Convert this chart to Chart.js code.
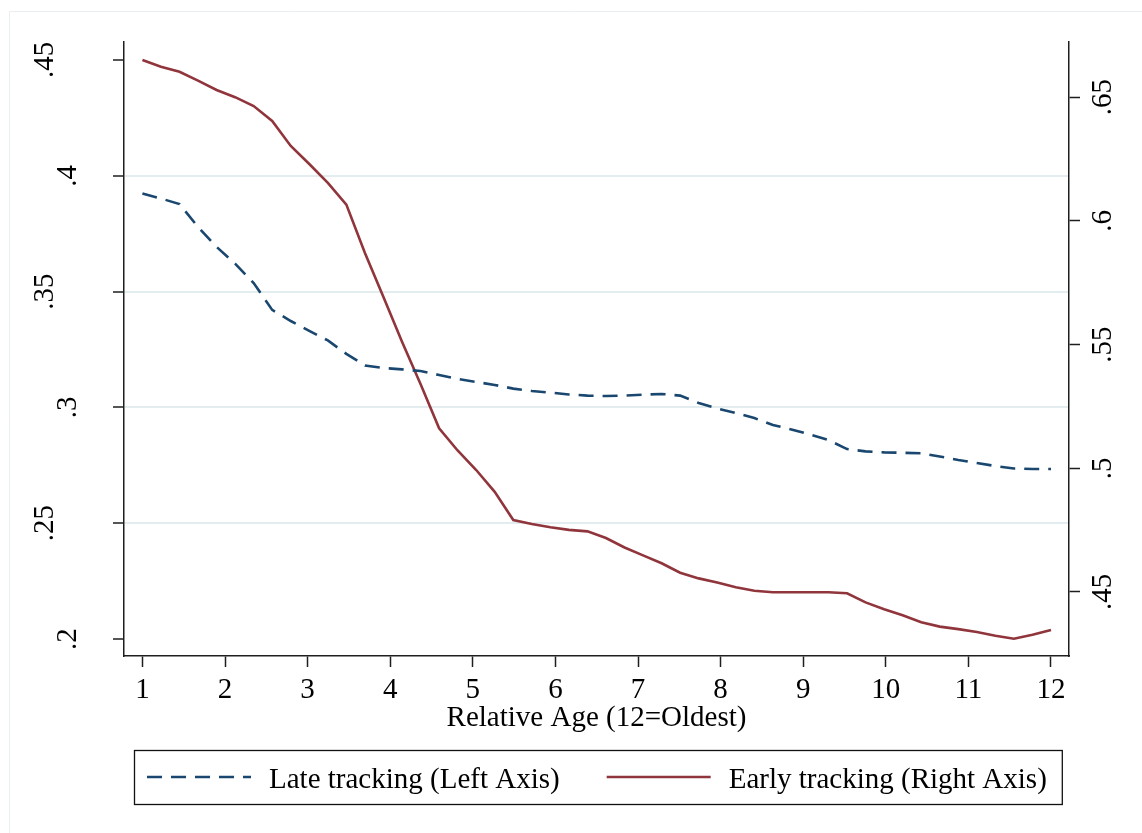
<!DOCTYPE html>
<html>
<head>
<meta charset="utf-8">
<script src="https://cdn.jsdelivr.net/npm/chart.js@4"></script>
<style>
    body { margin: 0; background: #fff; }
    canvas { display: block; }
</style>
</head>
<body>
<canvas id="ageChart" width="1142" height="833"></canvas>
<script>
const SERIF = '"Liberation Serif", "Times New Roman", serif';

// Relative age positions (50 points between 1 and 12)
const relativeAge = [
    1.000, 1.224, 1.449, 1.673, 1.898, 2.122, 2.347, 2.571, 2.796, 3.020,
    3.245, 3.469, 3.694, 3.918, 4.143, 4.367, 4.592, 4.816, 5.041, 5.265,
    5.490, 5.714, 5.939, 6.163, 6.388, 6.612, 6.837, 7.061, 7.286, 7.510,
    7.735, 7.959, 8.184, 8.408, 8.633, 8.857, 9.082, 9.306, 9.531, 9.755,
    9.980, 10.204, 10.429, 10.653, 10.878, 11.102, 11.327, 11.551, 11.776, 12.000
];

// Late tracking (left axis)
const lateTracking = [
    0.3924, 0.3902, 0.3878, 0.3779, 0.3693, 0.3621, 0.3537, 0.3421, 0.3373, 0.3330,
    0.3289, 0.3231, 0.3181, 0.3170, 0.3164, 0.3157, 0.3140, 0.3123, 0.3110, 0.3097,
    0.3081, 0.3071, 0.3064, 0.3056, 0.3051, 0.3049, 0.3051, 0.3055, 0.3058, 0.3051,
    0.3019, 0.2995, 0.2976, 0.2954, 0.2924, 0.2905, 0.2883, 0.2859, 0.2820, 0.2810,
    0.2806, 0.2804, 0.2802, 0.2788, 0.2773, 0.2760, 0.2747, 0.2736, 0.2734, 0.2734
];

// Early tracking (right axis)
const earlyTracking = [
    0.6650, 0.6623, 0.6603, 0.6567, 0.6529, 0.6500, 0.6464, 0.6404, 0.6303, 0.6230,
    0.6154, 0.6066, 0.5870, 0.5692, 0.5512, 0.5341, 0.5162, 0.5072, 0.4993, 0.4905,
    0.4791, 0.4775, 0.4762, 0.4751, 0.4745, 0.4718, 0.4680, 0.4648, 0.4616, 0.4578,
    0.4555, 0.4538, 0.4519, 0.4505, 0.4499, 0.4499, 0.4499, 0.4499, 0.4495, 0.4458,
    0.4430, 0.4406, 0.4378, 0.4360, 0.4350, 0.4338, 0.4323, 0.4311, 0.4327, 0.4346
];

// Tick values
const xTicks = [1, 2, 3, 4, 5, 6, 7, 8, 9, 10, 11, 12];
const leftTicks = [0.2, 0.25, 0.3, 0.35, 0.4, 0.45];
const rightTicks = [0.45, 0.5, 0.55, 0.6, 0.65];
const gridTicks = [0.25, 0.3, 0.35, 0.4];

// Stata style labels: ".45" instead of "0.45"
const stataLabel = (v) => String(Math.round(v * 100) / 100).replace(/^0/, "");

const setTicks = (values) => (scale) => {
    scale.ticks = values.map(v => ({ value: v }));
};

// y axes: fixed width, and no extra room asked for above/below the plot
const fixWidth = (w) => (scale) => {
    scale.width = w;
    scale.paddingTop = 0;
    scale.paddingBottom = 0;
};

// Faint outer frame (top and left edges)
const outerFrame = {
    id: "outerFrame",
    beforeDraw(chart) {
        const { ctx, width, height } = chart;
        ctx.save();
        ctx.strokeStyle = "#e9eef0";
        ctx.lineWidth = 1;
        ctx.beginPath();
        ctx.moveTo(9.5, height);
        ctx.lineTo(9.5, 11.5);
        ctx.lineTo(width, 11.5);
        ctx.stroke();
        ctx.restore();
    }
};

// Boxed legend below the axis title
const boxedLegend = {
    id: "boxedLegend",
    afterDraw(chart) {
        const { ctx } = chart;
        const pad = 13, sample = 104, gap = 18, itemGap = 47, padRight = 15;
        const left = 134, top = 750, boxHeight = 54;

        ctx.save();
        ctx.font = `29px ${SERIF}`;
        const items = chart.data.datasets.map(ds => ({ ds, w: ctx.measureText(ds.label).width }));
        const boxWidth = pad + padRight + itemGap * (items.length - 1) +
            items.reduce((s, it) => s + sample + gap + it.w, 0);

        ctx.strokeStyle = "#111";
        ctx.lineWidth = 1.3;
        ctx.strokeRect(left + 0.5, top + 0.5, boxWidth, boxHeight);

        const lineY = top + 27;
        let x = left + pad;
        items.forEach(({ ds, w }) => {
            ctx.beginPath();
            ctx.setLineDash(ds.borderDash || []);
            ctx.strokeStyle = ds.borderColor;
            ctx.lineWidth = ds.borderWidth;
            ctx.moveTo(x, lineY);
            ctx.lineTo(x + sample, lineY);
            ctx.stroke();
            ctx.setLineDash([]);
            x += sample + gap;

            ctx.fillStyle = "#000";
            ctx.textBaseline = "alphabetic";
            ctx.fillText(ds.label, x, top + 38);
            x += w + itemGap;
        });
        ctx.restore();
    }
};

const axisColor = "#1e1e1e";

new Chart(document.getElementById("ageChart"), {
    type: "line",
    data: {
        datasets: [
            {
                label: "Late tracking (Left Axis)",
                data: relativeAge.map((x, i) => ({ x, y: lateTracking[i] })),
                yAxisID: "yLeft",
                borderColor: "#1a476f",
                borderWidth: 2.6,
                borderDash: [15, 9],
                pointRadius: 0,
                tension: 0,
                fill: false
            },
            {
                label: "Early tracking (Right Axis)",
                data: relativeAge.map((x, i) => ({ x, y: earlyTracking[i] })),
                yAxisID: "yRight",
                borderColor: "#90353b",
                borderWidth: 2.6,
                pointRadius: 0,
                tension: 0,
                fill: false
            }
        ]
    },
    options: {
        responsive: false,
        animation: false,
        devicePixelRatio: 1,
        layout: { padding: { top: 42, left: 0, right: 0, bottom: 97 } },
        plugins: {
            legend: { display: false },
            tooltip: { enabled: false }
        },
        scales: {
            x: {
                type: "linear",
                position: "bottom",
                min: 0.777,
                max: 12.218,
                afterBuildTicks: setTicks(xTicks),
                afterFit: (s) => { s.height = 80; },
                grid: {
                    drawOnChartArea: false,
                    tickLength: 11,
                    tickColor: axisColor,
                    tickWidth: 1.5
                },
                border: { color: axisColor, width: 1.5 },
                ticks: {
                    color: "#000",
                    font: { family: SERIF, size: 29 },
                    padding: 6,
                    maxRotation: 0,
                    autoSkip: false
                },
                title: {
                    display: true,
                    text: "Relative Age (12=Oldest)",
                    color: "#000",
                    font: { family: SERIF, size: 29 },
                    padding: { top: 0, bottom: 0 }
                }
            },
            yLeft: {
                type: "linear",
                position: "left",
                min: 0.19266,
                max: 0.45777,
                afterBuildTicks: setTicks(leftTicks),
                afterFit: fixWidth(124),
                grid: {
                    color: (c) => (c.tick && gridTicks.some(v => Math.abs(v - c.tick.value) < 1e-6)) ? "#e3ecee" : "rgba(0,0,0,0)",
                    lineWidth: 2,
                    tickLength: 11,
                    tickColor: axisColor,
                    tickWidth: 1.5
                },
                border: { color: axisColor, width: 1.5 },
                ticks: {
                    color: "#000",
                    font: { family: SERIF, size: 29, lineHeight: 1.538 },
                    minRotation: 90,
                    maxRotation: 90,
                    crossAlign: "center",
                    padding: 49,
                    // short labels sit closer to the axis, as in the original
                    callback: (v) => {
                        const s = stataLabel(v);
                        return s.length > 2 ? s : ["", s];
                    }
                }
            },
            yRight: {
                type: "linear",
                position: "right",
                min: 0.42413,
                max: 0.67231,
                afterBuildTicks: setTicks(rightTicks),
                afterFit: fixWidth(73),
                grid: {
                    drawOnChartArea: false,
                    tickLength: 11,
                    tickColor: axisColor,
                    tickWidth: 1.5
                },
                border: { color: axisColor, width: 1.5 },
                ticks: {
                    color: "#000",
                    font: { family: SERIF, size: 29 },
                    minRotation: 90,
                    maxRotation: 90,
                    crossAlign: "center",
                    padding: 5,
                    callback: (v) => stataLabel(v)
                }
            }
        }
    },
    plugins: [outerFrame, boxedLegend]
});
</script>
</body>
</html>
